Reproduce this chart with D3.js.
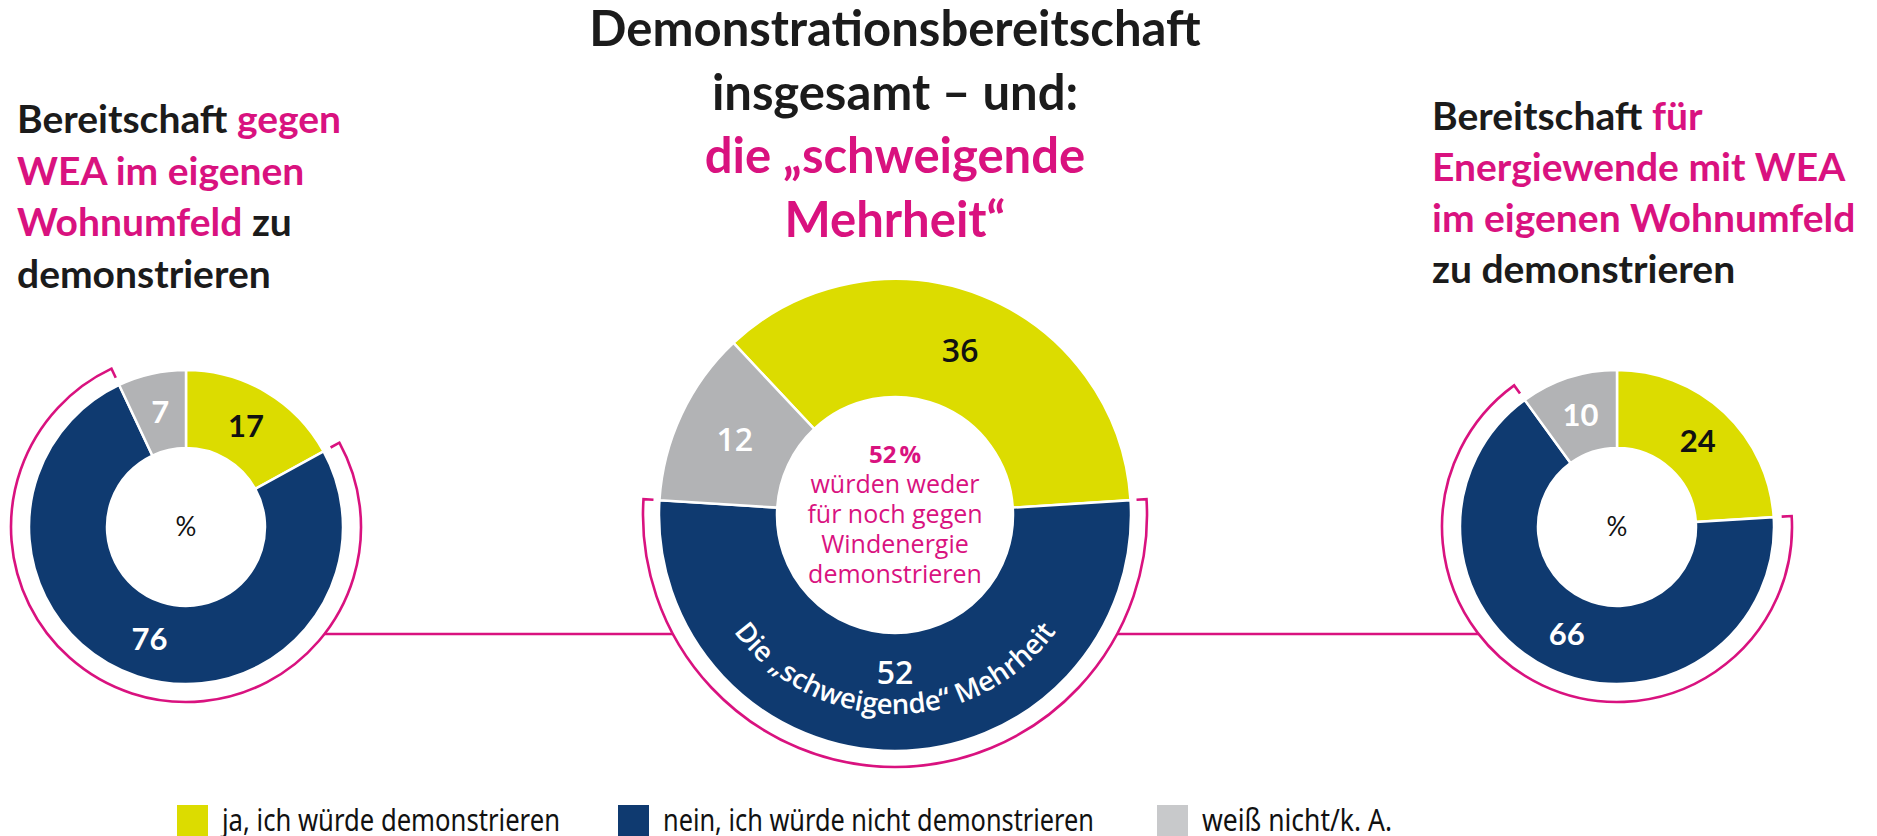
<!DOCTYPE html>
<html>
<head>
<meta charset="utf-8">
<script src="https://cdn.jsdelivr.net/npm/d3@7"></script>
<style>
  body { margin: 0; background: #fff; }
  svg { display: block; }
</style>
</head>
<body>
<svg id="chart" width="1877" height="836"></svg>
<script>
// Data
const categories = ["ja, ich würde demonstrieren", "nein, ich würde nicht demonstrieren", "weiß nicht/k. A."];
const valuesGegen = [17, 76, 7];     // gegen WEA im eigenen Wohnumfeld
const valuesGesamt = [36, 52, 12];   // insgesamt
const valuesFuer = [24, 66, 10];     // für Energiewende mit WEA

// Title lines: [text, colour key]
const titleLeft = [
  [["Bereitschaft ", "k"], ["gegen", "m"]],
  [["WEA im eigenen", "m"]],
  [["Wohnumfeld ", "m"], ["zu", "k"]],
  [["demonstrieren", "k"]]
];
const titleCenter = [
  [["Demonstrationsbereitschaft", "k"]],
  [["insgesamt – und:", "k"]],
  [["die „schweigende", "m"]],
  [["Mehrheit“", "m"]]
];
const titleRight = [
  [["Bereitschaft ", "k"], ["für", "m"]],
  [["Energiewende mit WEA", "m"]],
  [["im eigenen Wohnumfeld", "m"]],
  [["zu demonstrieren", "k"]]
];
const centerNote = ["würden weder", "für noch gegen", "Windenergie", "demonstrieren"];
const arcCaption = "Die „schweigende“ Mehrheit";

// Styles
const colors = ["#dcdc00", "#0f3a70", "#b2b3b5"];
const legendColors = ["#dcdc00", "#0f3a70", "#c8c9cb"];
const labelColors = ["#111", "#fff", "#fff"];
const magenta = "#d9127f";
const ink = { k: "#1b1b1b", m: magenta };

const svg = d3.select("#chart");
const TAU = Math.PI * 2;

function polar(a, r) {
  return [Math.sin(a) * r, -Math.cos(a) * r];
}

/**
 * Draw a donut with value labels and a bracket around the "nein" slice.
 */
function drawDonut(opt) {
  const total = d3.sum(opt.values);
  const start = opt.start(opt.values, total);
  const pie = d3.pie().sort(null).value(d => d).startAngle(start).endAngle(start + TAU);
  const slices = pie(opt.values);

  const g = svg.append("g").attr("transform", `translate(${opt.cx},${opt.cy})`);
  const arc = d3.arc().innerRadius(opt.r0).outerRadius(opt.r1);

  g.selectAll("path.slice")
    .data(slices)
    .enter()
    .append("path")
    .attr("class", "slice")
    .attr("d", arc)
    .attr("fill", (d, i) => colors[i])
    .attr("stroke", "#fff")
    .attr("stroke-width", 2.5);

  g.selectAll("text.val")
    .data(slices)
    .enter()
    .append("text")
    .attr("class", "val")
    .attr("transform", (d, i) => {
      const r = opt.labelR[i];
      const a = (d.startAngle + d.endAngle) / 2;
      const p = polar(a, r);
      return `translate(${p[0]},${p[1]})`;
    })
    .attr("text-anchor", "middle")
    .attr("dy", "0.36em")
    .attr("font-family", opt.numFont)
    .attr("font-weight", opt.numWeight)
    .attr("font-size", opt.numSize)
    .attr("fill", (d, i) => labelColors[i])
    .text(d => d.data);

  // bracket around the "nein" slice
  const s = slices[1];
  const p0 = polar(s.startAngle, opt.bracketR - 10);
  const p1 = polar(s.startAngle, opt.bracketR);
  const p3 = polar(s.endAngle, opt.bracketR - 10);
  const path = d3.path();
  path.moveTo(p0[0], p0[1]);
  path.lineTo(p1[0], p1[1]);
  path.arc(0, 0, opt.bracketR, s.startAngle - Math.PI / 2, s.endAngle - Math.PI / 2);
  path.lineTo(p3[0], p3[1]);
  g.append("path")
    .attr("d", path.toString())
    .attr("fill", "none")
    .attr("stroke", magenta)
    .attr("stroke-width", 2.6);

  return g;
}

const topStart = () => 0;
// centre donut: "nein" slice centred at the bottom
const bottomStart = (v, total) => Math.PI - TAU * (v[0] + v[1] / 2) / total;

const left = { cx: 186, cy: 527, r0: 79, r1: 157, bracketR: 175 };
const mid = { cx: 895, cy: 515, r0: 118, r1: 236, bracketR: 252 };
const right = { cx: 1617, cy: 527, r0: 79, r1: 157, bracketR: 175 };

// connecting lines between brackets
const lineY = 634;
function bracketX(d, side) {
  const dy = lineY - d.cy;
  return d.cx + side * Math.sqrt(d.bracketR * d.bracketR - dy * dy);
}
svg.append("line")
  .attr("x1", bracketX(left, 1)).attr("x2", bracketX(mid, -1))
  .attr("y1", lineY).attr("y2", lineY)
  .attr("stroke", magenta).attr("stroke-width", 2.6);
svg.append("line")
  .attr("x1", bracketX(mid, 1)).attr("x2", bracketX(right, -1))
  .attr("y1", lineY).attr("y2", lineY)
  .attr("stroke", magenta).attr("stroke-width", 2.6);

const gL = drawDonut(Object.assign({}, left, {
  values: valuesGegen, start: topStart, labelR: [118, 118, 118],
  numFont: "Lato", numWeight: 700, numSize: 31
}));
const gM = drawDonut(Object.assign({}, mid, {
  values: valuesGesamt, start: bottomStart, labelR: [177, 157, 177],
  numFont: "Open Sans", numWeight: 600, numSize: 32
}));
const gR = drawDonut(Object.assign({}, right, {
  values: valuesFuer, start: topStart, labelR: [118, 118, 118],
  numFont: "Lato", numWeight: 700, numSize: 31
}));

// "%" in the small donuts
[gL, gR].forEach(g => {
  g.append("text")
    .attr("text-anchor", "middle")
    .attr("dy", "0.36em")
    .attr("font-family", "Lato")
    .attr("font-size", 26)
    .attr("fill", "#111")
    .text("%");
});

// centre note
gM.append("text")
  .attr("text-anchor", "middle")
  .attr("y", -52)
  .attr("font-family", "Open Sans")
  .attr("font-weight", 700)
  .attr("font-size", 24)
  .attr("fill", magenta)
  .text(valuesGesamt[1] + "\u202f%");
gM.selectAll("text.note")
  .data(centerNote)
  .enter()
  .append("text")
  .attr("class", "note")
  .attr("text-anchor", "middle")
  .attr("y", (d, i) => -22 + i * 30)
  .attr("font-family", "Open Sans")
  .attr("font-size", 25)
  .attr("fill", magenta)
  .text(d => d);

// curved caption along the bottom of the centre donut
const capR = 199;
const cp = d3.path();
const a0 = Math.PI + 1.25, a1 = Math.PI - 1.25;
const c0 = polar(a0, capR);
cp.moveTo(c0[0], c0[1]);
cp.arc(0, 0, capR, a0 - Math.PI / 2, a1 - Math.PI / 2, true);
gM.append("path").attr("id", "capPath").attr("d", cp.toString()).attr("fill", "none");
gM.append("text")
  .attr("font-family", "Open Sans")
  .attr("font-weight", 600)
  .attr("font-size", 27.5)
  .attr("fill", "#fff")
  .append("textPath")
  .attr("href", "#capPath")
  .attr("startOffset", "50%")
  .attr("text-anchor", "middle")
  .text(arcCaption);

// titles
function drawTitle(lines, x, y0, lh, size, anchor) {
  const t = svg.append("g");
  lines.forEach((parts, i) => {
    const txt = t.append("text")
      .attr("x", x)
      .attr("y", y0 + i * lh)
      .attr("text-anchor", anchor)
      .attr("font-family", "Lato")
      .attr("font-weight", 700)
      .attr("font-size", size);
    parts.forEach(p => {
      txt.append("tspan").attr("fill", ink[p[1]]).text(p[0]);
    });
  });
}
drawTitle(titleLeft, 17, 133, 51.5, 39, "start");
drawTitle(titleCenter, 895, 46, 63.5, 49, "middle");
drawTitle(titleRight, 1432, 130, 51, 39, "start");

// legend
const legendX = [177, 618, 1157];
const legendW = [338, 431, 190];
const legend = svg.append("g");
categories.forEach((c, i) => {
  legend.append("rect")
    .attr("x", legendX[i]).attr("y", 805)
    .attr("width", 31).attr("height", 31)
    .attr("fill", legendColors[i]);
  legend.append("text")
    .attr("x", legendX[i] + 45).attr("y", 831)
    .attr("font-family", "Noto Sans")
    .attr("font-size", 30)
    .attr("fill", "#111")
    .attr("textLength", legendW[i])
    .attr("lengthAdjust", "spacingAndGlyphs")
    .text(c);
});
</script>
</body>
</html>
